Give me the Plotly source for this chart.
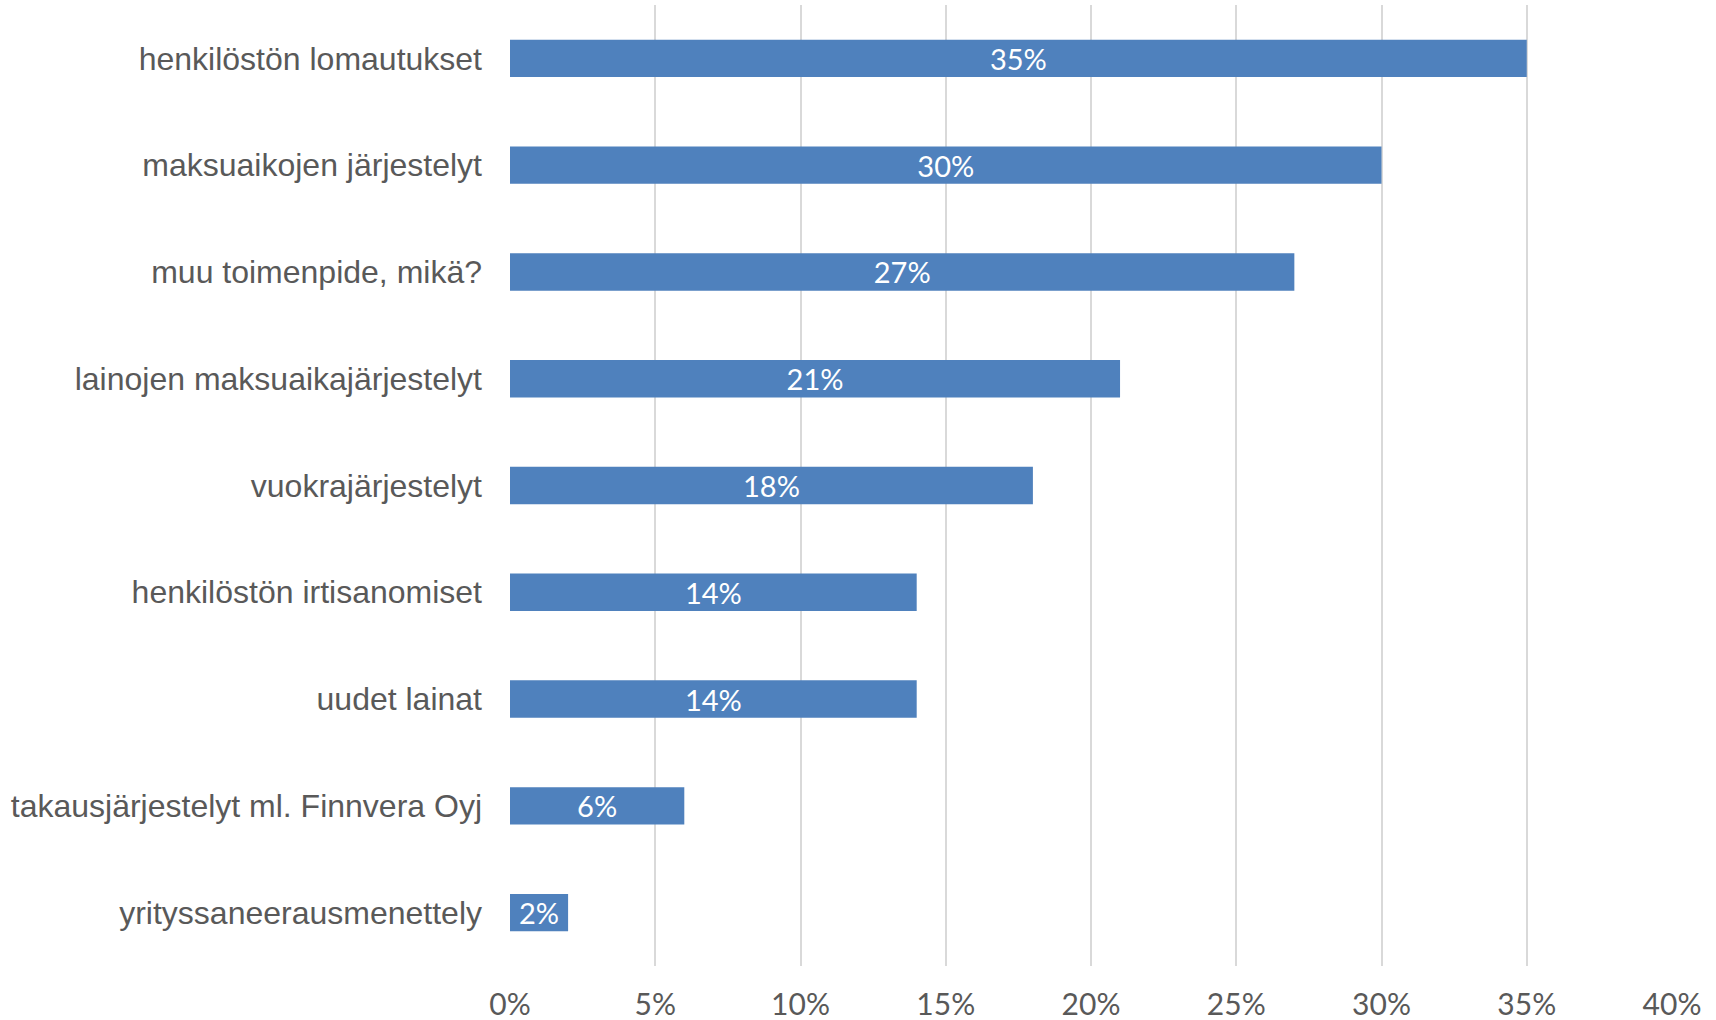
import plotly.graph_objects as go

categories = [
    "henkilöstön lomautukset",
    "maksuaikojen järjestelyt",
    "muu toimenpide, mikä?",
    "lainojen maksuaikajärjestelyt",
    "vuokrajärjestelyt",
    "henkilöstön irtisanomiset",
    "uudet lainat",
    "takausjärjestelyt ml. Finnvera Oyj",
    "yrityssaneerausmenettely",
]
values = [0.35, 0.30, 0.27, 0.21, 0.18, 0.14, 0.14, 0.06, 0.02]
labels = ["35%", "30%", "27%", "21%", "18%", "14%", "14%", "6%", "2%"]
x_ticks = [0, 0.05, 0.10, 0.15, 0.20, 0.25, 0.30, 0.35, 0.40]
x_ticktext = ["0%", "5%", "10%", "15%", "20%", "25%", "30%", "35%", "40%"]

fig = go.Figure(go.Bar(
    x=values,
    y=categories,
    orientation="h",
    marker=dict(color="#4F81BD", line=dict(width=0)),
    width=0.35,
    text=labels,
    textposition="inside",
    insidetextanchor="middle",
    textangle=0,
    constraintext="none",
    textfont=dict(family="Lato, Open Sans, sans-serif", size=29, color="white"),
    hoverinfo="skip",
))

fig.update_layout(
    width=1716,
    height=1020,
    margin=dict(l=510, r=44, t=5, b=54),
    paper_bgcolor="white",
    plot_bgcolor="white",
    showlegend=False,
    bargap=0.65,
)
fig.update_xaxes(
    range=[0, 0.40],
    tickvals=x_ticks,
    ticktext=x_ticktext,
    showgrid=True,
    gridcolor="#D9D9D9",
    gridwidth=2,
    zeroline=False,
    showline=False,
    ticks="",
    ticklabelstandoff=18,
    tickfont=dict(family="Lato, Open Sans, sans-serif", size=30, color="#595959"),
    automargin=False,
)
fig.update_yaxes(
    categoryorder="array",
    categoryarray=categories[::-1],
    showgrid=False,
    zeroline=False,
    showline=False,
    ticks="",
    ticklabelstandoff=27,
    tickfont=dict(family="Liberation Sans, Arial, sans-serif", size=32, color="#595959"),
    automargin=False,
)

fig.write_html(
    "out.html",
    config={"displayModeBar": False},
    post_script="document.body.style.margin='0';document.body.style.padding='0';",
)
